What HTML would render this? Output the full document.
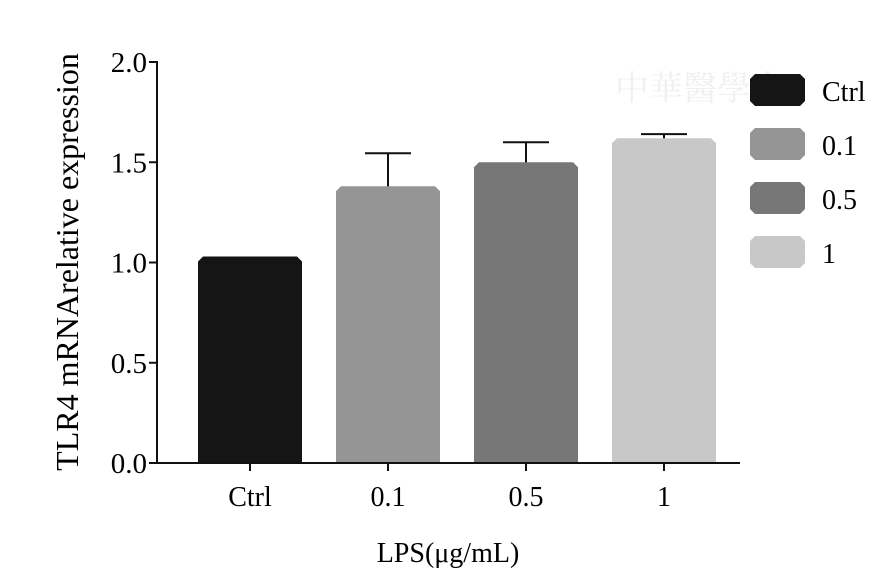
<!DOCTYPE html>
<html><head><meta charset="utf-8"><style>
body{margin:0;background:#fff;}
svg{display:block;font-family:"Liberation Serif",serif;}
</style></head><body>
<svg id="chart" width="895" height="583">
<text x="700" y="100" font-size="34" fill="#f0f0f0" text-anchor="middle" font-family="Noto Serif CJK SC, serif">中華醫學會</text>
<g id="axes"></g><g id="bars"></g><g id="legend"></g>
<text x="0" y="0" font-size="32" text-anchor="middle" transform="translate(78 262) rotate(-90)">TLR4 mRNArelative expression</text>
<text x="448" y="562" font-size="28" text-anchor="middle">LPS(μg/mL)</text>
</svg>
<script>
const categories=["Ctrl","0.1","0.5","1"];
const values=[1.03,1.38,1.50,1.62];
const errors=[0,0.165,0.10,0.02];
const colors=["#151515","#959595","#777777","#c8c8c8"];
const yTicks=[0,0.5,1.0,1.5,2.0];
const ns="http://www.w3.org/2000/svg";
const X0=157,Y0=463,PXU=200.5,SLOT=138,BW=104;
const y=v=>Y0-v*PXU;
const xc=i=>250+i*SLOT;
function mk(tag,a,p,t){const e=document.createElementNS(ns,tag);for(const k in a)e.setAttribute(k,a[k]);if(t!==undefined)e.textContent=t;p.appendChild(e);return e;}
const ax=document.getElementById('axes'),bg=document.getElementById('bars'),lg=document.getElementById('legend');
const yl=mk('line',{x1:X0,y1:y(2)-1,x2:X0,y2:Y0+1,stroke:'#111','stroke-width':2},ax);

const xl=mk('line',{x1:X0-1,y1:Y0,x2:740,y2:Y0,stroke:'#111','stroke-width':2},ax);

yTicks.forEach(v=>{
 const t=mk('line',{x1:X0-8,y1:y(v),x2:X0,y2:y(v),stroke:'#111','stroke-width':2},ax);
 
 const l=mk('text',{x:X0-10,y:y(v)+10,'font-size':29,'text-anchor':'end'},ax,v.toFixed(1));
 
});
categories.forEach((c,i)=>{
 const t=mk('line',{x1:xc(i),y1:Y0,x2:xc(i),y2:Y0+8,stroke:'#111','stroke-width':2},ax);
 
 const l=mk('text',{x:xc(i),y:506,'font-size':28,'text-anchor':'middle'},ax,c);
 
 const x1=xc(i)-BW/2,x2=xc(i)+BW/2,top=y(values[i]),b=5;
 if(errors[i]>0){
  const e=mk('path',{d:`M${xc(i)} ${top+10}V${y(values[i]+errors[i])}M${xc(i)-23} ${y(values[i]+errors[i])}H${xc(i)+23}`,stroke:'#111','stroke-width':2,fill:'none'},bg);
  
 }
 const r=mk('path',{d:`M${x1} ${Y0-1}V${top+b}L${x1+b} ${top}H${x2-b}L${x2} ${top+b}V${Y0-1}Z`,fill:colors[i]},bg);
 
 const ly=74+i*54;
 const lb=mk('path',{d:`M750 ${ly+5}L755 ${ly}H800L805 ${ly+5}V${ly+27}L800 ${ly+32}H755L750 ${ly+27}Z`,fill:colors[i]},lg);
 
 const lt=mk('text',{x:822,y:ly+27,'font-size':28},lg,c);
 
});
</script>
</body></html>
